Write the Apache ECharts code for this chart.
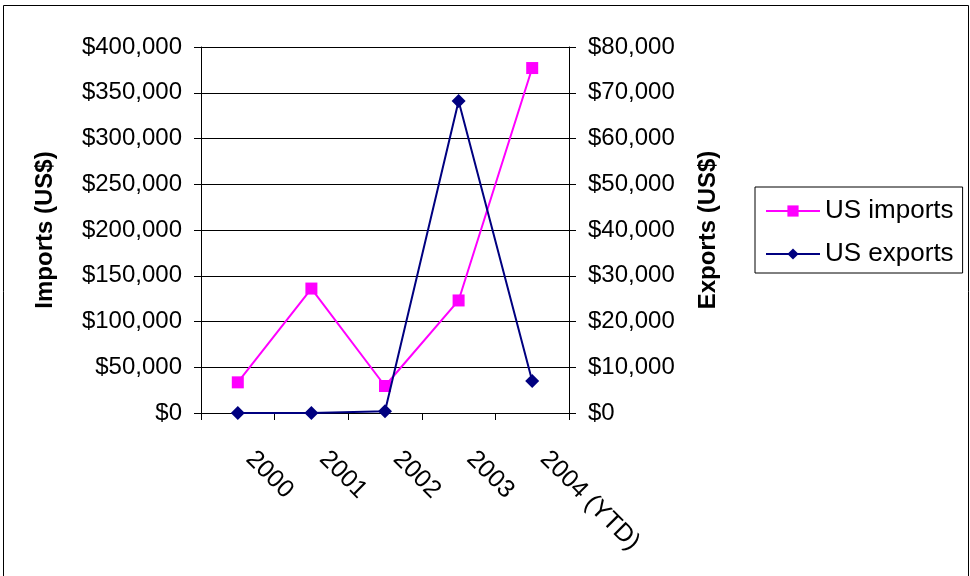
<!DOCTYPE html>
<html>
<head>
<meta charset="utf-8">
<script src="https://cdn.jsdelivr.net/npm/echarts@6/dist/echarts.min.js"></script>
<style>
  html, body { margin: 0; padding: 0; background: #fff; }
  #chart { width: 970px; height: 576px; }
</style>
</head>
<body>
<div id="chart"></div>
<script>
// Trade with the US, yearly totals
const years = ['2000', '2001', '2002', '2003', '2004 (YTD)'];
const usImports = [33500, 136000, 29500, 123000, 377000];
const usExports = [0, 0, 400, 68200, 7000];

const FONT = '"Liberation Sans", Arial, sans-serif';

function dollars(v) {
  return '$' + Math.round(v).toString().replace(/\B(?=(\d{3})+(?!\d))/g, ',');
}

const chart = echarts.init(document.getElementById('chart'), null, { renderer: 'canvas' });

chart.setOption({
  animation: false,
  backgroundColor: '#ffffff',
  textStyle: { fontFamily: FONT, color: '#000' },
  graphic: [{
    type: 'rect',
    shape: { x: 3.5, y: 5.5, width: 965, height: 620 },
    style: { fill: 'none', stroke: '#000', lineWidth: 1 },
    silent: true
  }],
  grid: { left: 201, right: 401, top: 47, bottom: 163, containLabel: false },
  legend: {
    orient: 'vertical',
    left: 755,
    top: 187,
    padding: [11, 9, 6, 10],
    itemGap: 17,
    itemWidth: 54,
    itemHeight: 14,
    borderColor: '#000',
    borderWidth: 1,
    backgroundColor: '#fff',
    textStyle: { fontFamily: FONT, fontSize: 26, color: '#000' },
    data: ['US imports', 'US exports']
  },
  xAxis: {
    type: 'category',
    data: years,
    boundaryGap: true,
    axisLine: { lineStyle: { color: '#000', width: 1 } },
    axisTick: { show: true, length: 7, lineStyle: { color: '#000' } },
    axisLabel: {
      rotate: -45,
      margin: 30,
      padding: [0, 0, 0, 17],
      fontFamily: FONT,
      fontSize: 25,
      color: '#000'
    },
    splitLine: { show: false }
  },
  yAxis: [{
    type: 'value',
    min: 0, max: 400000, interval: 50000,
    position: 'left',
    name: 'Imports (US$)',
    nameLocation: 'middle',
    nameRotate: 90,
    nameGap: 156,
    nameTextStyle: { fontFamily: FONT, fontSize: 24, fontWeight: 'bold', color: '#000', verticalAlign: 'middle' },
    axisLine: { show: true, lineStyle: { color: '#000', width: 1 } },
    axisTick: { show: true, length: 7, lineStyle: { color: '#000' } },
    axisLabel: { formatter: dollars, margin: 19, fontFamily: FONT, fontSize: 24, color: '#000' },
    splitLine: { show: true, lineStyle: { color: '#000', width: 1 } }
  }, {
    type: 'value',
    min: 0, max: 80000, interval: 10000,
    position: 'right',
    name: 'Exports (US$)',
    nameLocation: 'middle',
    nameRotate: 90,
    nameGap: 139,
    nameTextStyle: { fontFamily: FONT, fontSize: 24, fontWeight: 'bold', color: '#000', verticalAlign: 'middle' },
    axisLine: { show: true, lineStyle: { color: '#000', width: 1 } },
    axisTick: { show: true, length: 7, lineStyle: { color: '#000' } },
    axisLabel: { formatter: dollars, margin: 19, fontFamily: FONT, fontSize: 24, color: '#000' },
    splitLine: { show: false }
  }],
  series: [{
    name: 'US imports',
    type: 'line',
    yAxisIndex: 0,
    data: usImports,
    symbol: 'rect',
    symbolSize: 12,
    lineStyle: { color: '#ff00ff', width: 2 },
    itemStyle: { color: '#ff00ff' },
    z: 2
  }, {
    name: 'US exports',
    type: 'line',
    yAxisIndex: 1,
    data: usExports,
    symbol: 'diamond',
    symbolSize: 14,
    lineStyle: { color: '#000080', width: 2 },
    itemStyle: { color: '#000080' },
    z: 3
  }]
});
</script>
</body>
</html>
